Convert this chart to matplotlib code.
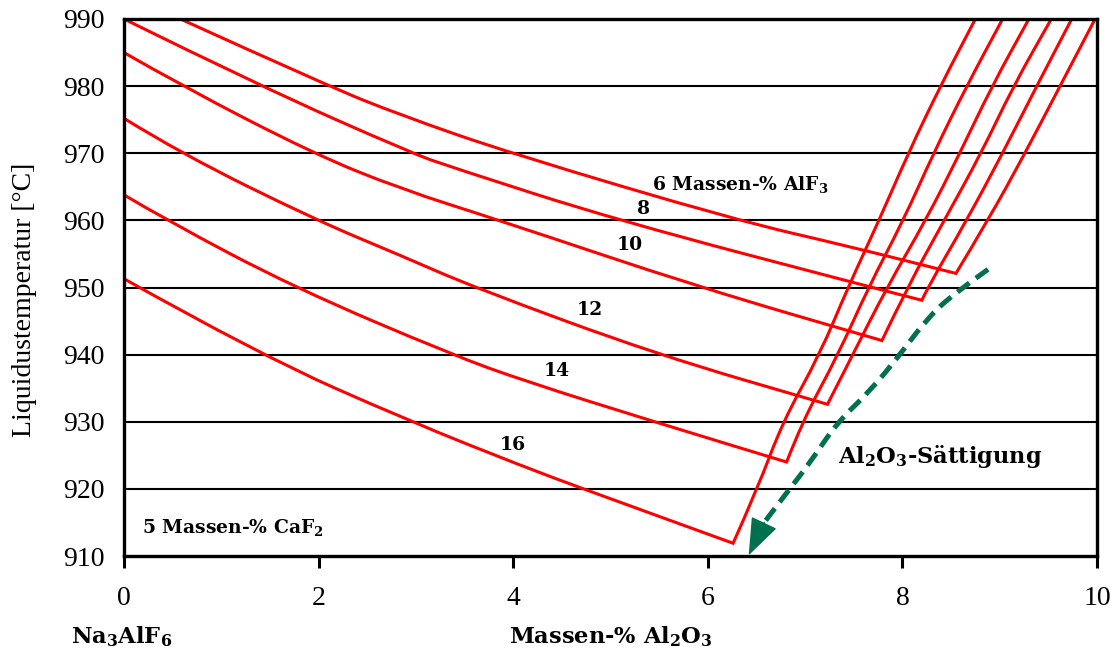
import matplotlib
matplotlib.use("Agg")
import matplotlib.pyplot as plt
from matplotlib.path import Path
from matplotlib.patches import PathPatch

plt.rcParams["font.family"] = "Liberation Serif"
plt.rcParams["mathtext.fontset"] = "custom"
plt.rcParams["mathtext.rm"] = "DejaVu Serif"
plt.rcParams["mathtext.bf"] = "DejaVu Serif:bold"
plt.rcParams["mathtext.default"] = "bf"

RED = "#FF0000"
GREEN = "#00704F"

# Liquidus curves (Massen-% Al2O3, temperature) for each AlF3 content
liq_x_6 = [0.58, 2.10, 2.84, 3.97, 6.30, 7.46, 8.55]
liq_t_6 = [990.0, 980.0, 975.7, 970.0, 960.0, 956.1, 952.1]
liq_x_8 = [0.0, 1.40, 2.96, 3.35, 5.07, 7.69, 8.20]
liq_t_8 = [990.0, 980.0, 970.0, 968.0, 960.0, 950.0, 948.1]
liq_x_10 = [0.0, 0.60, 1.94, 2.84, 3.86, 5.92, 7.79]
liq_t_10 = [985.0, 980.0, 970.0, 964.7, 960.0, 950.0, 942.1]
liq_x_12 = [0.0, 0.58, 1.98, 2.84, 3.60, 5.48, 7.23]
liq_t_12 = [975.2, 970.0, 960.0, 954.8, 950.0, 940.0, 932.6]
liq_x_14 = [0.0, 0.44, 1.75, 3.37, 4.11, 5.45, 6.81]
liq_t_14 = [963.8, 960.0, 950.0, 940.0, 936.1, 930.0, 924.0]
liq_x_16 = [0.0, 1.39, 2.95, 4.11, 4.72, 6.26]
liq_t_16 = [951.3, 940.0, 930.0, 923.3, 920.0, 911.9]

# Al2O3 saturation branches, from the eutectic corner upwards
sat_x_6 = [8.88, 9.26, 9.62, 9.98]
sat_t_6 = [960, 970, 980, 990]
sat_x_8 = [8.26, 8.66, 9.03, 9.38, 9.74]
sat_t_8 = [950, 960, 970, 980, 990]
sat_x_10 = [8.05, 8.43, 8.81, 9.14, 9.53]
sat_t_10 = [950, 960, 970, 980, 990]
sat_x_12 = [7.49, 7.84, 8.24, 8.59, 8.92, 9.30]
sat_t_12 = [940, 950, 960, 970, 980, 990]
sat_x_14 = [6.97, 7.34, 7.65, 8.01, 8.32, 8.66, 9.03]
sat_t_14 = [930, 940, 950, 960, 970, 980, 990]
sat_x_16 = [6.51, 6.77, 7.15, 7.44, 7.76, 8.06, 8.39, 8.75]
sat_t_16 = [920, 930, 940, 950, 960, 970, 980, 990]

curves = [
    (liq_x_6, liq_t_6, sat_x_6, sat_t_6),
    (liq_x_8, liq_t_8, sat_x_8, sat_t_8),
    (liq_x_10, liq_t_10, sat_x_10, sat_t_10),
    (liq_x_12, liq_t_12, sat_x_12, sat_t_12),
    (liq_x_14, liq_t_14, sat_x_14, sat_t_14),
    (liq_x_16, liq_t_16, sat_x_16, sat_t_16),
]

# curve labels: text, x, T
labels = [
    (r"6 Massen-% AlF$_3$", 6.33, 965.3),
    ("8", 5.34, 961.7),
    ("10", 5.20, 956.4),
    ("12", 4.79, 946.6),
    ("14", 4.45, 937.6),
    ("16", 4.00, 926.6),
]

# saturation arrow path
arrow_x = [8.88, 8.52, 8.25, 7.98, 7.67, 7.33, 7.05, 6.81, 6.58]
arrow_t = [952.7, 949.0, 945.3, 940.1, 934.6, 929.9, 923.9, 919.4, 915.0]
arrow_tip = (6.42, 910.1)

x_ticks = [0, 2, 4, 6, 8, 10]
y_ticks = [910, 920, 930, 940, 950, 960, 970, 980, 990]


def smooth(xs, ys):
    """Quadratic bezier through the midpoints, passing the end points."""
    pts = list(zip(xs, ys))
    verts, codes = [pts[0]], [Path.MOVETO]
    for i in range(1, len(pts) - 1):
        mid = ((pts[i][0] + pts[i + 1][0]) / 2, (pts[i][1] + pts[i + 1][1]) / 2)
        verts += [pts[i], mid]
        codes += [Path.CURVE3, Path.CURVE3]
    verts.append(pts[-1])
    codes.append(Path.LINETO)
    return verts, codes


fig = plt.figure(figsize=(11.14, 6.54), dpi=100)
ax = fig.add_axes([124 / 1114, 1 - 556 / 654, (1097 - 124) / 1114, (556 - 19) / 654])
ax.set_xlim(0, 10)
ax.set_ylim(910, 990)
ax.set_xticks(x_ticks)
ax.set_yticks(y_ticks)

for t in y_ticks[1:-1]:
    ax.axhline(t, color="black", lw=1.5, zorder=1)

for lx, lt, sx, st in curves:
    v1, c1 = smooth(lx, lt)
    v2, c2 = smooth([lx[-1]] + sx, [lt[-1]] + st)
    path = Path(v1 + v2[1:], c1 + c2[1:])
    ax.add_patch(PathPatch(path, fill=False, edgecolor=RED, lw=2.2,
                           joinstyle="miter", zorder=3))

v, c = smooth(arrow_x, arrow_t)
ax.add_patch(PathPatch(Path(v, c), fill=False, edgecolor=GREEN, lw=3.6,
                       ls=(0, (3.0, 1.6)), capstyle="butt", zorder=4))
ax.annotate("", xy=arrow_tip, xytext=(arrow_x[-1], arrow_t[-1]),
            arrowprops=dict(arrowstyle="-|>,head_length=1.2,head_width=0.45",
                            mutation_scale=20, color=GREEN, lw=1,
                            shrinkA=0, shrinkB=0), zorder=5)

bold = dict(family="DejaVu Serif", weight="bold", fontsize=13.5)
big_bold = dict(family="DejaVu Serif", weight="bold", fontsize=16.2)
for txt, x, t in labels:
    ax.text(x, t, txt, ha="center", va="center", zorder=6, **bold)

ax.text(0.18, 914.2, r"5 Massen-% CaF$_2$", ha="left", va="center", **bold)
ax.text(7.34, 924.8, r"Al$_2$O$_3$-Sättigung", ha="left", va="center",
        **big_bold)

ax.text(0.5, -0.151, r"Massen-% Al$_2$O$_3$", transform=ax.transAxes,
        ha="center", va="center", **big_bold)
ax.text(-0.002, -0.151, r"Na$_3$AlF$_6$", transform=ax.transAxes,
        ha="center", va="center", **big_bold)
fig.text(25 / 1114, 1 - 300 / 654, "Liquidustemperatur [°C]", rotation=90,
         ha="center", va="center", fontsize=20)

for s in ax.spines.values():
    s.set_linewidth(2.4)
    s.set_zorder(7)
ax.tick_params(axis="x", direction="out", length=8.5, width=2.2, pad=13,
               labelsize=20)
ax.tick_params(axis="y", length=0, pad=14, labelsize=20)

fig.savefig("out.png", dpi=100)
